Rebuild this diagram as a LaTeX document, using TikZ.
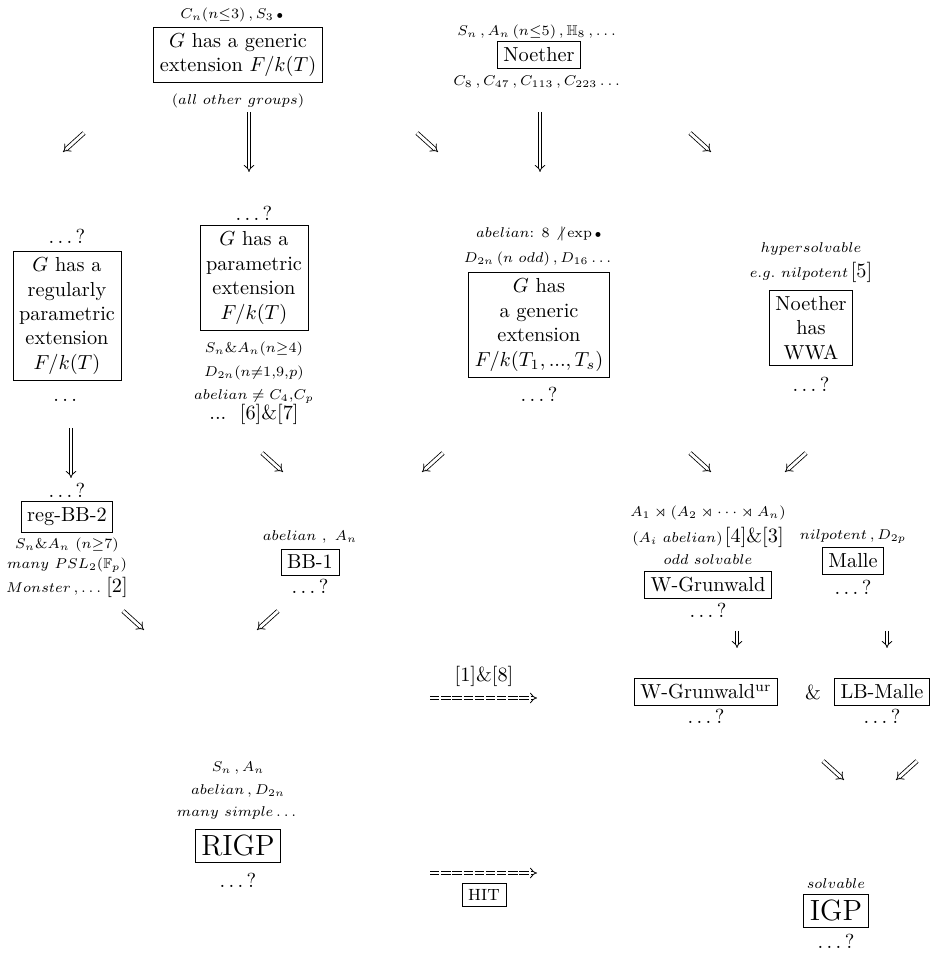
\documentclass[tikz,border=0pt]{standalone}
\usepackage{amsmath}
\usepackage{amssymb}
\usetikzlibrary{arrows, arrows.meta}

\tikzset{
  box/.style={draw, thin, align=center, inner sep=3pt},
  lbl/.style={font=\scriptsize, inner sep=1pt},
  imp/.style={double, double distance=1.4pt, -{Implies}},
  longimp/.style={imp, dash pattern=on 4.6pt off 0.9pt},
}

\begin{document}
\begin{tikzpicture}[x=0.1731cm, y=0.1731cm]
\useasboundingbox (0,0) rectangle (94.6,95.4);

%first row
\node[lbl] (gen-t) at (23.2,93.9) {$C_n(n{\leq}3)\,,S_3$\,${\scriptscriptstyle\bullet}$};
\node[box] (gen) at (23.8,89.9) {$G$ has a generic\\extension $F/k(T)$};
\node[lbl] (gen-b) at (23.8,85.3) {$(all\ other\ groups)$};

\node[lbl] (noe-t) at (53.8,92.2) {$S_n\,,A_n\,(n{\leq}5)\,,\mathbb{H}_8\,,\dots$};
\node[box] (noe) at (53.9,89.9) {Noether};
\node[lbl] (noe-b) at (53.8,87.2) {$C_8\,,C_{47}\,,C_{113}\,,C_{223}\dots$};

%arrows below first row
\coordinate (a1s) at (8.4,82.1);  \coordinate (a1e) at (6.3,80.2);
\coordinate (a2s) at (24.9,84.2); \coordinate (a2e) at (24.9,78.2);
\coordinate (a3s) at (41.7,82.1); \coordinate (a3e) at (43.8,80.2);
\coordinate (a4s) at (54.0,84.2); \coordinate (a4e) at (54.0,78.2);
\coordinate (a5s) at (69.0,82.1); \coordinate (a5e) at (71.1,80.2);
\draw[imp] (a1s) -- (a1e);
\draw[imp] (a2s) -- (a2e);
\draw[imp] (a3s) -- (a3e);
\draw[imp] (a4s) -- (a4e);
\draw[imp] (a5s) -- (a5e);

%second row
\node[] (regpar-t) at (6.7,71.8) {$\dots$?};
\node[box] (regpar) at (6.7,63.8) {$G$ has a\\regularly\\parametric\\extension\\$F/k(T)$};
\node[] (regpar-b) at (6.7,55.4) {$\dots$};

\node[] (par-t) at (25.4,74.1) {$\dots$?};
\node[box] (par) at (25.4,67.6) {$G$ has a\\parametric\\extension\\$F/k(T)$};
\node[lbl] (par-b1) at (25.4,60.5) {$S_n\&A_n(n{\geq}4)$};
\node[lbl] (par-b2) at (25.4,58.1) {$D_{2n}(n{\neq}1{,}9{,}p)$};
\node[lbl] (par-b3) at (25.4,55.7) {$abelian\neq C_4{,}C_p$};
\node[] (par-b4) at (25.4,54.0) {...\ \ [6]\&[7]};

\node[lbl] (multi-t1) at (53.9,72.0) {$abelian$: 8 $\not|\exp$\,${\scriptscriptstyle\bullet}$};
\node[lbl] (multi-t2) at (53.9,69.5) {$D_{2n}\,(n\ odd)\,,D_{16}\dots$};
\node[box] (multi) at (53.9,62.9) {$G$ has\\a generic\\extension\\$F/k(T_1,...,T_s)$};
\node[] (multi-b) at (53.9,56.0) {$\dots$?};

\node[lbl] (wwa-t1) at (81.1,70.5) {$hypersolvable$};
\node[lbl] (wwa-t2) at (81.1,68.2) {$e.g.\ nilpotent$\,{\normalsize[5]}};
\node[box] (wwa) at (81.1,62.6) {Noether\\has\\WWA};
\node[] (wwa-b) at (81.1,57.0) {$\dots$?};

%arrows below second row
\coordinate (b1s) at (7.1,52.6);  \coordinate (b1e) at (7.1,47.6);
\coordinate (b2s) at (26.2,50.1); \coordinate (b2e) at (28.3,48.2);
\coordinate (b3s) at (44.3,50.1); \coordinate (b3e) at (42.2,48.2);
\coordinate (b4s) at (69.0,50.1); \coordinate (b4e) at (71.1,48.2);
\coordinate (b5s) at (80.6,50.1); \coordinate (b5e) at (78.5,48.2);
\draw[imp] (b1s) -- (b1e);
\draw[imp] (b2s) -- (b2e);
\draw[imp] (b3s) -- (b3e);
\draw[imp] (b4s) -- (b4e);
\draw[imp] (b5s) -- (b5e);

%third row
\node[] (regbb-t) at (6.7,46.4) {$\dots$?};
\node[box] (regbb) at (6.7,43.7) {reg-BB-2};
\node[lbl] (regbb-b1) at (6.7,40.9) {$S_n\&A_n\ (n{\geq}7)$};
\node[lbl] (regbb-b2) at (6.7,38.9) {$many\ PSL_2(\mathbb{F}_p)$};
\node[lbl] (regbb-b3) at (6.7,36.7) {$Monster\,,\dots$\,{\normalsize[2]}};

\node[lbl] (bb-t) at (31.0,41.7) {$abelian\ ,\ A_n$};
\node[box] (bb) at (31.0,39.2) {BB-1};
\node[] (bb-b) at (31.0,36.8) {$\dots$?};

\node[lbl] (wg-t1) at (70.8,44.1) {$A_1\rtimes(A_2\rtimes\cdots\rtimes A_n)$};
\node[lbl] (wg-t2) at (70.8,41.7) {$(A_i\ abelian)$\,{\normalsize[4]\&[3]}};
\node[lbl] (wg-t3) at (70.8,39.4) {$odd\ solvable$};
\node[box] (wg) at (70.8,36.9) {W-Grunwald};
\node[] (wg-b) at (70.8,34.4) {$\dots$?};

\node[lbl] (malle-t) at (85.3,41.7) {$nilpotent\,,D_{2p}$};
\node[box] (malle) at (85.3,39.3) {Malle};
\node[] (malle-b) at (85.3,36.7) {$\dots$?};

%arrows below third row
\coordinate (c1s) at (12.3,34.3); \coordinate (c1e) at (14.4,32.4);
\coordinate (c2s) at (27.8,34.3); \coordinate (c2e) at (25.7,32.4);
\coordinate (c3s) at (73.7,32.3); \coordinate (c3e) at (73.7,30.6);
\coordinate (c4s) at (88.7,32.3); \coordinate (c4e) at (88.7,30.6);
\draw[imp] (c1s) -- (c1e);
\draw[imp] (c2s) -- (c2e);
\draw[imp] (c3s) -- (c3e);
\draw[imp] (c4s) -- (c4e);

%fourth row
\node[] (ref-a) at (48.4,27.8) {[1]\&[8]};
\coordinate (d1s) at (43.0,25.6); \coordinate (d1e) at (53.7,25.6);
\draw[longimp] (d1s) -- (d1e);

\node[box] (wgur) at (70.6,26.2) {W-Grunwald$^{\rm ur}$};
\node[] (wgur-b) at (70.6,23.8) {$\dots$?};
\node[] (amp) at (81.3,26.2) {\&};
\node[box] (lbm) at (88.2,26.2) {LB-Malle};
\node[] (lbm-b) at (88.2,23.8) {$\dots$?};

%arrows towards IGP
\coordinate (e1s) at (82.3,19.3); \coordinate (e1e) at (84.4,17.4);
\coordinate (e2s) at (91.7,19.3); \coordinate (e2e) at (89.6,17.4);
\draw[imp] (e1s) -- (e1e);
\draw[imp] (e2s) -- (e2e);

%last row
\node[lbl] (rigp-t1) at (23.8,18.6) {$S_n\,,A_n$};
\node[lbl] (rigp-t2) at (23.8,16.3) {$abelian\,,D_{2n}$};
\node[lbl] (rigp-t3) at (23.8,14.1) {$many\ simple\dots$};
\node[box,font=\Large] (rigp) at (23.8,10.8) {RIGP};
\node[] (rigp-b) at (23.8,7.4) {$\dots$?};

\coordinate (f1s) at (43.0,8.1); \coordinate (f1e) at (53.7,8.1);
\draw[longimp] (f1s) -- (f1e);
\node[box,font=\footnotesize] (hit) at (48.4,5.9) {HIT};

\node[lbl] (igp-t) at (83.6,7.0) {$solvable$};
\node[box,font=\Large] (igp) at (83.6,4.3) {IGP};
\node[] (igp-b) at (83.6,1.3) {$\dots$?};

\end{tikzpicture}
\end{document}
